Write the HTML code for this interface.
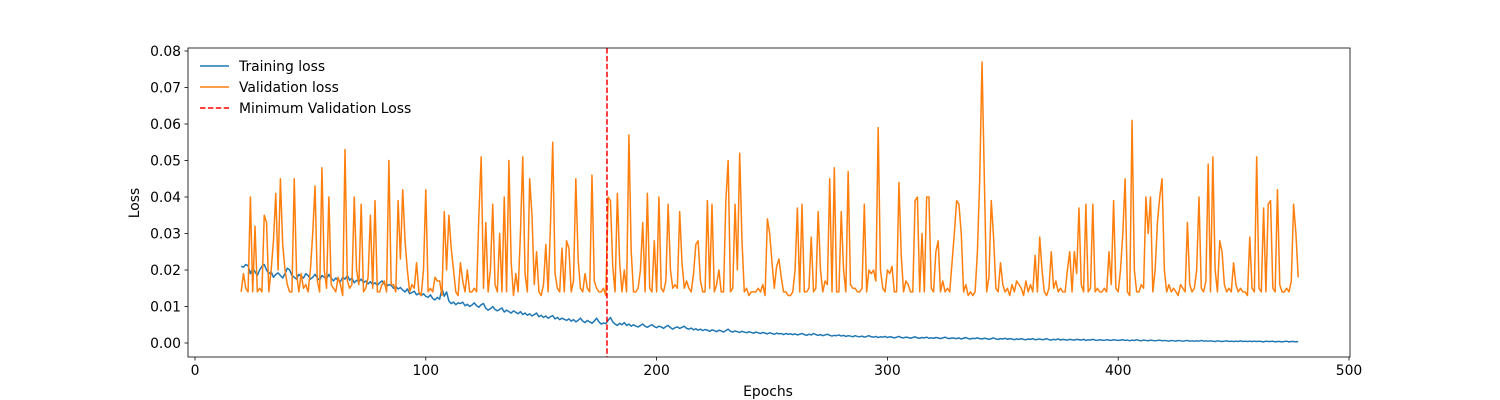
<!DOCTYPE html>
<html><head><meta charset="utf-8"><style>
html,body{margin:0;padding:0;background:#fff;}
svg{display:block;font-family:"DejaVu Sans","Liberation Sans",sans-serif;}
</style></head><body>
<svg id="chart" width="1500" height="400">
<rect x="0" y="0" width="1500" height="400" fill="#fff"/>
<g id="grid"></g>
<g id="series"></g>
<rect x="188" y="48" width="1162" height="309" fill="none" stroke="#000" stroke-width="0.8"/>
<g id="axes"></g>
<text x="768" y="396" font-size="13.9" text-anchor="middle">Epochs</text>
<text x="139" y="203" font-size="13.9" text-anchor="middle" transform="rotate(-90 139 203)">Loss</text>
<g>
<g>
<line x1="200" y1="66" x2="229" y2="66" stroke="#1f77b4" stroke-width="1.5"/>
<text x="239" y="71" font-size="13.9">Training loss</text></g>
<g>
<line x1="200" y1="87" x2="229" y2="87" stroke="#ff7f0e" stroke-width="1.5"/>
<text x="239" y="92" font-size="13.9">Validation loss</text></g>
<g>
<line x1="200" y1="108" x2="229" y2="108" stroke="#ff0000" stroke-width="1.5" stroke-dasharray="5.5,2.4"/>
<text x="239" y="113" font-size="13.9">Minimum Validation Loss</text></g>
</g>
</svg>
<script>
const startEpoch = 20;
const minEpoch = 178.5;
const xTicks = [0,100,200,300,400,500];
const yTicks = [0.00,0.01,0.02,0.03,0.04,0.05,0.06,0.07,0.08];
const yTickLabels = ["0.00","0.01","0.02","0.03","0.04","0.05","0.06","0.07","0.08"];
const valLoss = [
.014,.019,.015,.014,.040,.014,.032,.014,.015,.014,.035,.033,.014,.020,.028,.041,.020,.045,.027,.020,
.016,.014,.014,.045,.019,.014,.019,.015,.016,.014,.020,.030,.043,.017,.014,.048,.020,.015,.040,.016,
.015,.014,.018,.016,.013,.053,.017,.015,.016,.040,.020,.016,.038,.014,.015,.018,.035,.015,.039,.014,
.014,.016,.017,.014,.050,.016,.016,.014,.039,.023,.042,.028,.020,.014,.016,.015,.022,.014,.013,.020,
.042,.014,.015,.014,.018,.017,.017,.013,.036,.020,.035,.026,.020,.014,.013,.022,.017,.014,.020,.014,
.014,.015,.014,.035,.051,.015,.033,.014,.020,.038,.016,.014,.030,.014,.040,.014,.050,.022,.013,.019,
.014,.030,.051,.019,.014,.045,.035,.016,.025,.014,.013,.016,.027,.014,.032,.055,.019,.015,.014,.026,
.014,.028,.026,.014,.017,.045,.023,.015,.014,.019,.015,.014,.046,.017,.015,.014,.014,.015,.013,.040,
.039,.021,.014,.041,.022,.014,.020,.014,.057,.025,.014,.014,.015,.020,.033,.014,.041,.015,.014,.028,
.014,.040,.015,.014,.017,.038,.020,.015,.016,.015,.036,.022,.015,.017,.015,.014,.019,.027,.028,.017,
.014,.014,.039,.015,.038,.014,.016,.020,.014,.014,.039,.050,.014,.015,.038,.020,.052,.028,.014,.015,
.013,.014,.014,.014,.015,.014,.016,.013,.034,.030,.022,.015,.021,.023,.018,.014,.014,.013,.013,.014,
.020,.037,.014,.038,.014,.014,.015,.029,.014,.015,.036,.020,.014,.017,.016,.045,.014,.048,.014,.014,
.036,.020,.014,.047,.016,.015,.015,.014,.014,.015,.038,.014,.020,.019,.020,.017,.059,.020,.015,.014,
.020,.019,.021,.014,.014,.044,.024,.014,.017,.016,.014,.014,.039,.040,.014,.030,.014,.040,.040,.015,
.014,.025,.028,.014,.017,.014,.015,.014,.022,.030,.039,.038,.030,.014,.016,.013,.014,.013,.014,.025,
.045,.077,.045,.014,.018,.039,.029,.015,.014,.022,.016,.014,.015,.013,.016,.014,.017,.016,.015,.013,
.017,.014,.016,.014,.024,.014,.029,.020,.014,.013,.015,.025,.015,.017,.014,.015,.014,.014,.020,.025,
.014,.025,.019,.037,.016,.014,.038,.014,.015,.038,.014,.015,.014,.014,.015,.014,.025,.016,.039,.015,
.014,.020,.030,.045,.014,.013,.061,.020,.014,.014,.016,.015,.040,.030,.040,.014,.020,.033,.040,.045,
.020,.014,.016,.014,.015,.014,.013,.016,.015,.014,.033,.016,.014,.015,.020,.040,.015,.014,.017,.049,
.014,.051,.020,.014,.028,.025,.016,.014,.015,.014,.022,.016,.014,.015,.014,.014,.013,.029,.015,.014,
.051,.015,.014,.037,.014,.038,.039,.015,.014,.042,.016,.014,.014,.015,.014,.017,.038,.030,.018
];
const trainLoss = [
.0210,.0208,.0215,.0212,.0190,.0205,.0195,.0185,.0200,.0210,.0215,.0200,.0190,.0195,.0180,.0188,.0192,.0185,.0178,.0190,
.0205,.0200,.0185,.0180,.0175,.0188,.0182,.0178,.0190,.0185,.0175,.0180,.0188,.0178,.0172,.0185,.0180,.0175,.0188,.0178,
.0170,.0178,.0172,.0168,.0180,.0175,.0185,.0172,.0178,.0165,.0172,.0168,.0175,.0165,.0170,.0162,.0168,.0160,.0165,.0158,
.0165,.0170,.0162,.0155,.0160,.0158,.0150,.0155,.0148,.0152,.0145,.0140,.0148,.0135,.0138,.0142,.0132,.0136,.0130,.0135,
.0128,.0125,.0132,.0122,.0118,.0125,.0120,.0150,.0128,.0140,.0115,.0108,.0112,.0105,.0110,.0108,.0112,.0102,.0106,.0100,
.0104,.0110,.0102,.0098,.0105,.0108,.0095,.0090,.0094,.0100,.0092,.0088,.0092,.0096,.0085,.0090,.0086,.0082,.0088,.0084,
.0080,.0086,.0078,.0082,.0076,.0080,.0074,.0078,.0082,.0072,.0076,.0070,.0074,.0068,.0072,.0075,.0066,.0070,.0064,.0068,
.0065,.0062,.0066,.0060,.0064,.0058,.0062,.0068,.0060,.0056,.0062,.0058,.0054,.0060,.0068,.0058,.0052,.0055,.0053,.0062,
.0070,.0058,.0052,.0048,.0054,.0050,.0056,.0048,.0052,.0046,.0050,.0046,.0044,.0048,.0052,.0046,.0043,.0047,.0050,.0045,
.0042,.0046,.0044,.0040,.0045,.0048,.0042,.0038,.0042,.0044,.0040,.0043,.0046,.0040,.0038,.0041,.0036,.0039,.0035,.0038,
.0034,.0037,.0035,.0032,.0036,.0034,.0031,.0035,.0033,.0030,.0034,.0038,.0032,.0030,.0033,.0031,.0029,.0032,.0030,.0028,
.0031,.0029,.0027,.0030,.0028,.0026,.0029,.0027,.0025,.0028,.0026,.0024,.0027,.0025,.0026,.0023,.0026,.0024,.0025,.0023,
.0025,.0022,.0024,.0026,.0023,.0021,.0024,.0022,.0026,.0023,.0021,.0023,.0020,.0022,.0024,.0021,.0019,.0021,.0020,.0022,
.0019,.0021,.0018,.0020,.0019,.0017,.0020,.0018,.0017,.0019,.0016,.0018,.0020,.0017,.0016,.0018,.0015,.0017,.0016,.0018,
.0015,.0017,.0016,.0014,.0016,.0018,.0015,.0014,.0016,.0015,.0013,.0015,.0017,.0014,.0013,.0015,.0014,.0016,.0013,.0014,
.0013,.0015,.0014,.0012,.0014,.0016,.0013,.0012,.0014,.0013,.0012,.0014,.0011,.0013,.0015,.0012,.0011,.0013,.0012,.0014,
.0012,.0011,.0013,.0012,.0010,.0012,.0014,.0011,.0010,.0012,.0011,.0013,.0010,.0012,.0011,.0009,.0011,.0010,.0012,.0010,
.0009,.0011,.0010,.0012,.0009,.0010,.0011,.0009,.0010,.0012,.0009,.0008,.0010,.0009,.0011,.0008,.0010,.0009,.0008,.0010,
.0009,.0008,.0010,.0009,.0008,.0010,.0007,.0009,.0008,.0010,.0008,.0007,.0009,.0008,.0007,.0009,.0008,.0007,.0009,.0008,
.0007,.0008,.0009,.0007,.0008,.0006,.0008,.0007,.0009,.0007,.0006,.0008,.0007,.0006,.0008,.0007,.0006,.0007,.0008,.0006,
.0007,.0006,.0005,.0007,.0006,.0005,.0007,.0006,.0005,.0006,.0007,.0005,.0006,.0005,.0006,.0005,.0007,.0005,.0006,.0005,
.0006,.0005,.0004,.0006,.0005,.0004,.0005,.0006,.0004,.0005,.0004,.0005,.0004,.0006,.0004,.0005,.0004,.0005,.0004,.0005,
.0004,.0005,.0004,.0003,.0005,.0004,.0004,.0005,.0003,.0004,.0004,.0003,.0004,.0005,.0003,.0004,.0004,.0003,.0004
];
const NS = "http://www.w3.org/2000/svg";
function xScale(e){ return 195 + (e - 0) * (1349 - 195) / 500; }
function yScale(v){ return 343 - v * (343 - 51) / 0.08; }
function mk(tag, attrs, parent){
  const el = document.createElementNS(NS, tag);
  for (const k in attrs) el.setAttribute(k, attrs[k]);
  parent.appendChild(el);
  return el;
}
const axes = document.getElementById('axes');
const series = document.getElementById('series');
xTicks.forEach(function(t){
  const x = xScale(t);
  const l = mk('line', {x1:x, y1:357, x2:x, y2:360.5, stroke:'#000', 'stroke-width':0.8}, axes);
  
  
  const tx = mk('text', {x:x, y:375, 'font-size':13.9, 'text-anchor':'middle'}, axes);
  tx.textContent = String(t);
  
  
});
yTicks.forEach(function(t, i){
  const y = yScale(t);
  const l = mk('line', {x1:184.5, y1:y, x2:188, y2:y, stroke:'#000', 'stroke-width':0.8}, axes);
  
  
  const tx = mk('text', {x:181, y:y + 5, 'font-size':13.9, 'text-anchor':'end'}, axes);
  tx.textContent = yTickLabels[i];
  
  
});
function pathFor(arr){
  return arr.map(function(v, i){ return (i ? 'L' : 'M') + xScale(startEpoch + i).toFixed(2) + ',' + yScale(v).toFixed(2); }).join('');
}
const tl = mk('path', {d:pathFor(trainLoss), fill:'none', stroke:'#1f77b4', 'stroke-width':1.5, 'stroke-linejoin':'round'}, series);


const vl = mk('path', {d:pathFor(valLoss), fill:'none', stroke:'#ff7f0e', 'stroke-width':1.5, 'stroke-linejoin':'round'}, series);


const mx = xScale(minEpoch);
const ml = mk('line', {x1:mx, y1:48, x2:mx, y2:357, stroke:'#ff0000', 'stroke-width':1.5, 'stroke-dasharray':'5.5,2.4'}, series);


</script>
</body></html>
